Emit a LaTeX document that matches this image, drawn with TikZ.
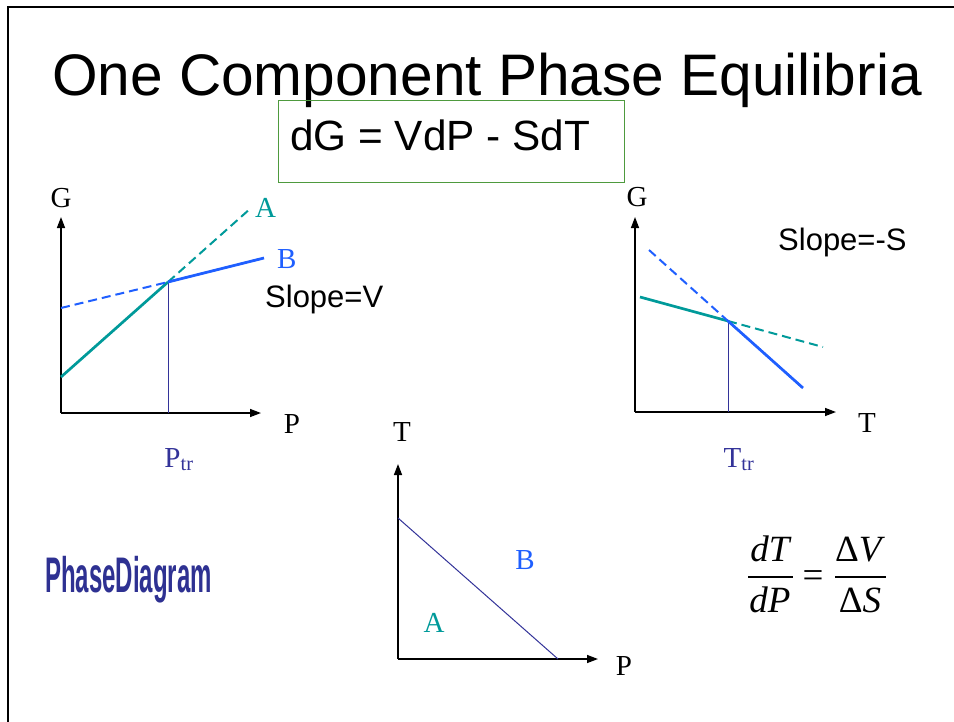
\documentclass[tikz,border=0pt]{standalone}
\usepackage{fontspec}
\setmainfont{Liberation Serif}
\newfontfamily\arialf{Liberation Sans}
\usetikzlibrary{arrows.meta}
\definecolor{tealc}{HTML}{009A9A}
\definecolor{bluec}{HTML}{1F5FFF}
\definecolor{navyc}{HTML}{333399}
\definecolor{boxgreen}{HTML}{4E9A3E}
\definecolor{inkc}{HTML}{2E3192}
\begin{document}
\begin{tikzpicture}[x=1pt,y=-1pt,
  axis/.style={line width=1.4pt,-{Triangle[length=11pt,width=8pt]}},
  solidln/.style={line width=2.7pt},
  dashln/.style={line width=2pt,dash pattern=on 9pt off 5pt},
  guide/.style={navyc,line width=0.9pt},
  lab/.style={font=\fontsize{29}{31}\selectfont,inner sep=0pt},
  sans/.style={font=\arialf\fontsize{31}{33}\selectfont,inner sep=0pt},
  fmla/.style={font=\fontsize{37}{40}\selectfont,inner sep=0pt}]
\useasboundingbox (0,0) rectangle (954,721);
\fill[white] (0,0) rectangle (954,721);
\draw[line width=2pt] (7.5,725) -- (7.5,7) -- (958,7);

% title and equation box
\node[anchor=base,inner sep=0pt,font=\arialf\fontsize{58.6}{62}\selectfont] (title) at (487,95) {One Component Phase Equilibria};
\node[draw=boxgreen,line width=1pt,minimum width=346pt,minimum height=82pt,anchor=north west,inner sep=0pt] (eqbox) at (278,100) {};
\node[anchor=base west,inner sep=0pt,font=\arialf\fontsize{42.3}{45}\selectfont] (dg) at (290,150) {dG = VdP - SdT};

% left graph G vs P
\coordinate (o1) at (61,413);
\coordinate (y1) at (61,217);
\coordinate (x1) at (261,413);
\coordinate (i1) at (168,282);
\coordinate (a1s) at (61,377);
\coordinate (a1e) at (251,208);
\coordinate (b1s) at (61,308);
\coordinate (b1e) at (264,258);
\draw[axis] (o1) -- (y1);
\draw[axis] (o1) -- (x1);
\draw[guide] (i1) -- (i1 |- o1);
\draw[tealc,solidln] (a1s) -- (i1);
\draw[tealc,dashln] (i1) -- (a1e);
\draw[bluec,dashln] (b1s) -- (i1) -- (b1e);
\draw[bluec,solidln] (i1) -- (b1e);
\node[lab,anchor=base] (g1) at (61,207) {G};
\node[lab,anchor=base] (p1) at (292,433) {P};
\node[lab,anchor=base west,tealc] (la1) at (255,217) {A};
\node[lab,anchor=base west,bluec] (lb1) at (277,268) {B};
\node[lab,anchor=base,navyc] (ptr) at (179,467) {P\textsubscript{tr}};
\node[sans,anchor=base west] (sv) at (265,307) {Slope=V};

% right graph G vs T
\coordinate (o2) at (635,412);
\coordinate (y2) at (635,217);
\coordinate (x2) at (836,412);
\coordinate (i2) at (728,321);
\coordinate (a2s) at (640,297);
\coordinate (a2e) at (823,347);
\coordinate (b2s) at (649,250);
\coordinate (b2e) at (803,388);
\draw[axis] (o2) -- (y2);
\draw[axis] (o2) -- (x2);
\draw[guide] (i2) -- (i2 |- o2);
\draw[tealc,solidln] (a2s) -- (i2);
\draw[tealc,dashln] (i2) -- (a2e);
\draw[bluec,dashln] (b2s) -- (i2) -- (b2e);
\draw[bluec,solidln] (i2) -- (b2e);
\node[lab,anchor=base] (g2) at (637,206) {G};
\node[lab,anchor=base] (t2) at (867,432) {T};
\node[lab,anchor=base,navyc] (ttr) at (739,467) {T\textsubscript{tr}};
\node[sans,anchor=base west] (ss) at (778,250) {Slope=-S};

% phase diagram
\coordinate (o3) at (398,659);
\coordinate (y3) at (398,464);
\coordinate (x3) at (598,659);
\coordinate (l3s) at (398,518);
\coordinate (l3e) at (558,659);
\draw[axis] (o3) -- (y3);
\draw[axis] (o3) -- (x3);
\draw[navyc,line width=1pt] (l3s) -- (l3e);
\node[lab,anchor=base] (t3) at (402,441) {T};
\node[lab,anchor=base] (p3) at (624,675) {P};
\node[lab,anchor=base,bluec] (lb3) at (525,569) {B};
\node[lab,anchor=base,tealc] (la3) at (434,632) {A};

% handwritten label
\node[anchor=base west,inner sep=0pt,inkc,font=\arialf\bfseries\fontsize{50}{52}\selectfont,xscale=0.48] (pd) at (45,592) {PhaseDiagram};

% Clapeyron relation
\node[fmla,anchor=base] (n1) at (770,561) {\itshape dT};
\node[fmla,anchor=base] (d1) at (770,612) {\itshape dP};
\node[fmla,anchor=base] (eqs) at (813,587) {=};
\node[fmla,anchor=base] (n2) at (860,561) {Δ\textit{V}};
\node[fmla,anchor=base] (d2) at (860,612) {Δ\textit{S}};
\coordinate (f1l) at (748,577);
\coordinate (f1r) at (793,577);
\coordinate (f2l) at (835,577);
\coordinate (f2r) at (886,577);
\draw[line width=1.6pt] (f1l) -- (f1r);
\draw[line width=1.6pt] (f2l) -- (f2r);
\end{tikzpicture}
\end{document}
